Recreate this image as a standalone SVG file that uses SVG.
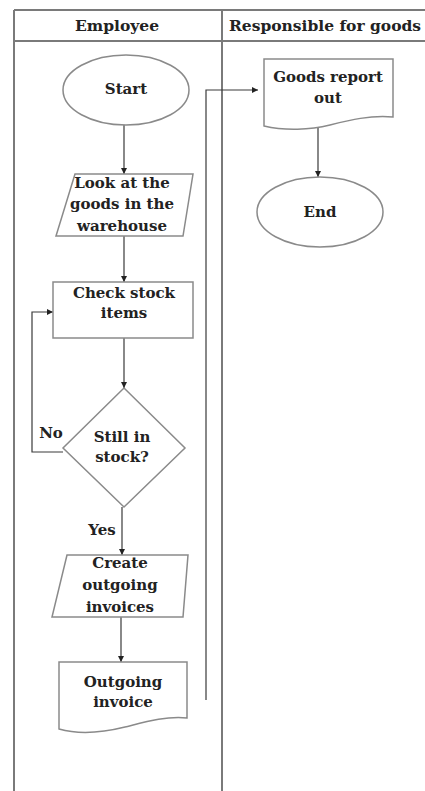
<svg xmlns="http://www.w3.org/2000/svg" width="425" height="791" viewBox="0 0 425 791">
<defs>
<style>
.frame{fill:none;stroke:#7a7a7a;stroke-width:2}
.shape{fill:#fff;stroke:#8a8a8a;stroke-width:1.5}
.conn{fill:none;stroke:#3a3a3a;stroke-width:1.2}
.hdr{font-family:"DejaVu Serif","Liberation Serif",serif;font-weight:bold;font-size:15.5px;fill:#222;text-anchor:middle}
.lbl{font-family:"DejaVu Serif","Liberation Serif",serif;font-weight:bold;font-size:15px;fill:#222;text-anchor:middle}
</style>
<marker id="arr" viewBox="0 0 10 10" refX="10" refY="5" markerWidth="6" markerHeight="6" orient="auto" markerUnits="userSpaceOnUse">
<path d="M0,0 L10,5 L0,10 Z" fill="#222"/>
</marker>
</defs>
<rect width="425" height="791" fill="#fff"/>
<g id="lanes">
<line class="frame" x1="14" y1="10" x2="425" y2="10"/>
<line class="frame" x1="14" y1="41" x2="425" y2="41"/>
<line class="frame" x1="14" y1="10" x2="14" y2="791"/>
<line class="frame" x1="222" y1="10" x2="222" y2="791"/>
<text class="hdr" x="117" y="31">Employee</text>
<text class="hdr" x="325" y="31">Responsible for goods</text>
</g>
<g id="connectors">
<line class="conn" x1="124" y1="125" x2="124" y2="174" marker-end="url(#arr)"/>
<line class="conn" x1="124" y1="236" x2="124" y2="282" marker-end="url(#arr)"/>
<line class="conn" x1="124" y1="338" x2="124" y2="388" marker-end="url(#arr)"/>
<polyline class="conn" points="63,452 32,452 32,312 53,312" marker-end="url(#arr)"/>
<line class="conn" x1="122" y1="507" x2="122" y2="555" marker-end="url(#arr)"/>
<line class="conn" x1="121" y1="617" x2="121" y2="662" marker-end="url(#arr)"/>
<polyline class="conn" points="206,700 206,90 258,90" marker-end="url(#arr)"/>
<line class="conn" x1="318" y1="128" x2="318" y2="177" marker-end="url(#arr)"/>
<text class="lbl" x="51" y="438">No</text>
<text class="lbl" x="102" y="535">Yes</text>
</g>
<g id="start">
<ellipse class="shape" cx="126" cy="90" rx="63" ry="35"/>
<text class="lbl" x="126" y="94">Start</text>
</g>
<g id="look">
<polygon class="shape" points="75,174 193,174 183,236 56,236"/>
<text class="lbl" x="122" y="188">Look at the</text>
<text class="lbl" x="122" y="209">goods in the</text>
<text class="lbl" x="122" y="231">warehouse</text>
</g>
<g id="check">
<rect class="shape" x="53" y="282" width="140" height="56"/>
<text class="lbl" x="124" y="298">Check stock</text>
<text class="lbl" x="124" y="318">items</text>
</g>
<g id="decision">
<polygon class="shape" points="124,388 185,448 124,507 63,448"/>
<text class="lbl" x="122" y="442">Still in</text>
<text class="lbl" x="122" y="462">stock?</text>
</g>
<g id="create">
<polygon class="shape" points="67,555 188,555 183,617 52,617"/>
<text class="lbl" x="120" y="568">Create</text>
<text class="lbl" x="120" y="590">outgoing</text>
<text class="lbl" x="120" y="612">invoices</text>
</g>
<g id="invoice">
<path class="shape" d="M59,662 H187 V718 C165,716 145,722 125,727 C105,732 80,735 59,729 Z"/>
<text class="lbl" x="123" y="687">Outgoing</text>
<text class="lbl" x="123" y="707">invoice</text>
</g>
<g id="report">
<path class="shape" d="M264,59 H393 V117 C370,115 350,120 330,125 C310,130 285,131 264,126 Z"/>
<text class="lbl" x="328" y="82">Goods report</text>
<text class="lbl" x="328" y="103">out</text>
</g>
<g id="end">
<ellipse class="shape" cx="320" cy="212" rx="63" ry="35"/>
<text class="lbl" x="320" y="217">End</text>
</g>
</svg>
